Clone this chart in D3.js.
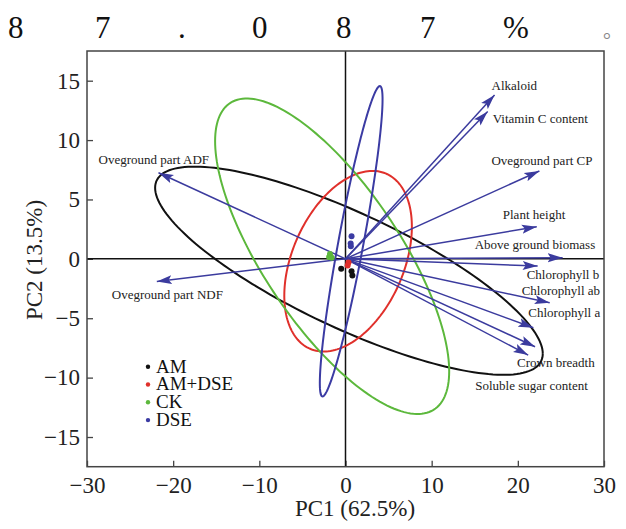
<!DOCTYPE html>
<html>
<head>
<meta charset="utf-8">
<script src="https://cdn.jsdelivr.net/npm/d3@7"></script>
<style>
  body { margin: 0; background: #fff; }
  svg { display: block; font-family: "Liberation Serif", "Times New Roman", serif; }
  .tick text { font-size: 23px; fill: #222; font-family: "Liberation Serif", serif; }
  .var-label { font-size: 13px; fill: #222; }
</style>
</head>
<body>
<svg id="chart" width="626" height="529"></svg>
<script>
// loadings (biplot arrows)
const variables = ["Alkaloid", "Vitamin C content", "Oveground part CP", "Plant height",
  "Above ground biomass", "Chlorophyll b", "Chlorophyll ab", "Chlorophyll a",
  "Crown breadth", "Soluble sugar content", "Oveground part ADF", "Oveground part NDF"];
const loadPC1 = [17.3, 16.5, 22.5, 22.2, 25.2, 22.3, 23.7, 21.8, 22.0, 21.2, -21.7, -21.9];
const loadPC2 = [13.8, 12.4, 7.4, 2.7, 0.1, -0.6, -3.7, -5.8, -7.4, -8.1, 7.25, -1.9];

// groups and confidence ellipses (centre + covariance)
const groups = ["AM", "AM+DSE", "CK", "DSE"];
const ellCx = [0.4, 0.3, -1.55, 0.66];
const ellCy = [-1.0, -0.2, 0.22, 1.48];
const ellSxx = [506, 54.8, 184.5, 13.25];
const ellSyy = [76.8, 57.8, 176.4, 170.8];
const ellSxy = [-157, 21.5, -131.6, 43.45];

// sample scores
const scoreGroup = ["AM", "AM", "AM", "AM+DSE", "AM+DSE", "CK", "CK", "CK", "DSE", "DSE", "DSE"];
const scorePC1 = [-0.5, 0.7, 0.8, 0.35, 0.25, -1.8, -1.6, -1.9, 0.7, 0.6, 0.62];
const scorePC2 = [-0.84, -1.05, -1.4, -0.3, -0.55, 0.4, 0.1, 0.15, 1.9, 1.3, 1.06];

const xTicks = [-30, -20, -10, 0, 10, 20, 30];
const yTicks = [-15, -10, -5, 0, 5, 10, 15];
const headChars = ["8", "7", ".", "0", "8", "7", "%"];
const headStop = "。";

// layout: glyph starts of the spaced-out top line, label offsets from arrow tips
const HEAD_X = [8, 95, 178, 252, 336, 420, 503];
const STOP_X = 603;
const LABEL_OFF = {
  "Alkaloid": [-3, -5], "Vitamin C content": [5, 11], "Oveground part CP": [-48, -6],
  "Plant height": [-34, -8], "Above ground biomass": [-88, -9], "Chlorophyll b": [-11, 13],
  "Chlorophyll ab": [-28, -8], "Chlorophyll a": [-5, -11], "Crown breadth": [-18, 20],
  "Soluble sugar content": [-53, 35], "Oveground part ADF": [-60, -9], "Oveground part NDF": [-45, 18]
};

const ARROW = "#3b3b9e";
const color = d3.scaleOrdinal(groups, ["#111111", "#e0302b", "#5cb83c", "#3b3ba3"]);

const svg = d3.select("#chart");
const L = 87, R = 604, T = 51, B = 466.7;
const x = d3.scaleLinear().domain([-30, 30]).range([L, R]);
const y = d3.scaleLinear().domain([-17.5, 17.5]).range([B, T]);

svg.append("defs").append("clipPath").attr("id", "plot")
  .append("rect").attr("x", L).attr("y", T).attr("width", R - L).attr("height", B - T);

svg.select("defs").append("marker")
  .attr("id", "head").attr("markerUnits", "userSpaceOnUse")
  .attr("markerWidth", 16).attr("markerHeight", 10)
  .attr("refX", 15).attr("refY", 5).attr("orient", "auto")
  .append("path").attr("d", "M0,0.5 L15,5 L0,9.5 L3,5 z").attr("fill", ARROW);

// top line of text (spread across the width)
const head = svg.append("text")
  .attr("y", 38)
  .style("font-family", "'Liberation Serif', serif")
  .style("font-size", "31px").attr("fill", "#111");
head.append("tspan").attr("x", HEAD_X.join(" ")).text(headChars.join(""));
head.append("tspan").attr("x", STOP_X).attr("fill", "#888").style("font-size", "20px")
  .style("font-family", "'Noto Sans CJK SC', sans-serif").text(headStop);

// axes
svg.append("g").attr("transform", `translate(0,${B})`)
  .call(d3.axisBottom(x).tickValues(xTicks).tickSize(-6).tickPadding(10))
  .attr("font-family", null).attr("font-size", null)
  .call(g => g.select(".domain").remove())
  .call(g => g.selectAll(".tick line").attr("stroke", "#444").attr("stroke-width", 1.3));

svg.append("g").attr("transform", `translate(${L},0)`)
  .call(d3.axisLeft(y).tickValues(yTicks).tickSize(-6).tickPadding(7))
  .attr("font-family", null).attr("font-size", null)
  .call(g => g.select(".domain").remove())
  .call(g => g.selectAll(".tick line").attr("stroke", "#444").attr("stroke-width", 1.3));

svg.append("text")
  .attr("x", 355).attr("y", 516).attr("text-anchor", "middle")
  .style("font-size", "23px").attr("fill", "#222")
  .text("PC1 (62.5%)");

svg.append("text")
  .attr("transform", `translate(42,260) rotate(-90)`).attr("text-anchor", "middle")
  .style("font-size", "23px").attr("fill", "#222")
  .text("PC2 (13.5%)");

const plot = svg.append("g").attr("clip-path", "url(#plot)");

// zero lines
plot.append("line").attr("x1", L).attr("x2", R).attr("y1", y(0)).attr("y2", y(0))
  .attr("stroke", "#111").attr("stroke-width", 1.5);
plot.append("line").attr("x1", x(0)).attr("x2", x(0)).attr("y1", T).attr("y2", B)
  .attr("stroke", "#111").attr("stroke-width", 1.5);

// ellipses
const ts = d3.range(0, 2 * Math.PI + 0.01, Math.PI / 90);
groups.forEach((gName, i) => {
  const a = Math.sqrt(ellSxx[i]);
  const c = ellSxy[i] / a;
  const d = Math.sqrt(ellSyy[i] - c * c);
  const pts = ts.map(t => [ellCx[i] + a * Math.cos(t), ellCy[i] + c * Math.cos(t) + d * Math.sin(t)]);
  plot.append("path")
    .attr("d", d3.line().x(p => x(p[0])).y(p => y(p[1]))(pts))
    .attr("fill", "none").attr("stroke", color(gName)).attr("stroke-width", 2);
});

// arrows
variables.forEach((v, i) => {
  plot.append("line")
    .attr("x1", x(0)).attr("y1", y(0))
    .attr("x2", x(loadPC1[i])).attr("y2", y(loadPC2[i]))
    .attr("stroke", ARROW).attr("stroke-width", 1.5)
    .attr("marker-end", "url(#head)");
  const off = LABEL_OFF[v];
  plot.append("text").attr("class", "var-label")
    .attr("x", x(loadPC1[i]) + off[0]).attr("y", y(loadPC2[i]) + off[1])
    .text(v);
});

// scores
plot.selectAll("circle.score").data(scoreGroup).join("circle").attr("class", "score")
  .attr("cx", (d, i) => x(scorePC1[i])).attr("cy", (d, i) => y(scorePC2[i]))
  .attr("r", 3).attr("fill", d => color(d));

// frame
svg.append("rect").attr("x", L).attr("y", T).attr("width", R - L).attr("height", B - T)
  .attr("fill", "none").attr("stroke", "#444").attr("stroke-width", 1.5);

// legend
const lg = svg.append("g").attr("transform", "translate(148,366.7)");
groups.forEach((gName, i) => {
  lg.append("circle").attr("cx", 0).attr("cy", i * 17.8).attr("r", 2.2).attr("fill", color(gName));
  lg.append("text").attr("x", 8).attr("y", i * 17.8 + 6)
    .style("font-size", "19px").attr("fill", "#111").text(gName);
});
</script>
</body>
</html>
